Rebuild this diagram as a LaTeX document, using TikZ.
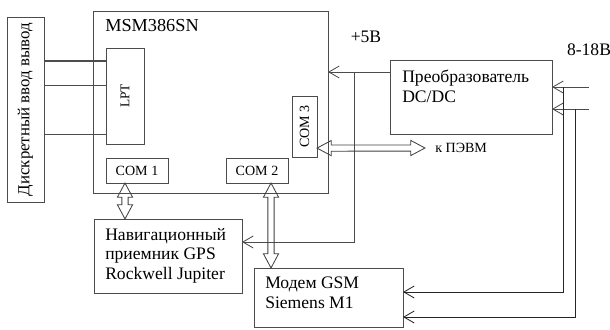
\documentclass[tikz,border=0pt]{standalone}
\usepackage{fontspec}
\setmainfont{Liberation Serif}
\usetikzlibrary{arrows.meta, calc, positioning, shapes.arrows}

\tikzset{
  box/.style={draw=black!70, line width=0.6pt, inner sep=0pt, outer sep=0pt},
  txt/.style={inner sep=0pt, text=black, font=\fontsize{12.5}{14}\selectfont, align=left},
  small/.style={text=black, font=\fontsize{10}{12}\selectfont},
  wire/.style={draw=black!70, line width=0.6pt},
  feed/.style={wire, -{Straight Barb[length=2.6mm,width=3mm]}},
  hollow/.style={double arrow, draw=black!75, line width=0.6pt, inner sep=1.9pt, outer sep=0pt,
    double arrow head extend=3.2pt, double arrow tip angle=56, double arrow head indent=0pt}
}

\newcommand{\hollowarrow}[2]{%
  \path let \p1=($(#2)-(#1)$), \n1={veclen(\x1,\y1)}, \n2={atan2(\y1,\x1)} in
    node[hollow, minimum height=\n1, rotate=\n2] at ($(#1)!0.5!(#2)$) {};}

\begin{document}
\begin{tikzpicture}[x=0.025cm, y=-0.025cm]
\useasboundingbox (0,0) rectangle (610,329);

% board and its ports
\node[box, minimum width=5.875cm, minimum height=4.55cm] (msm) at (210.5,102) {};
\node[txt, anchor=west, font=\fontsize{13}{15}\selectfont] (msmname) at (105,26) {MSM386SN};
\node[box, rotate=90, minimum width=2.4cm, minimum height=0.95cm,
  font=\fontsize{9.5}{11}\selectfont] (lpt) at (125,96) {LPT};
\node[box, small, minimum width=1.55cm, minimum height=0.625cm] (com1) at (137,170.5) {COM 1};
\node[box, small, minimum width=1.55cm, minimum height=0.625cm] (com2) at (257,170.5) {COM 2};
\node[box, small, rotate=90, minimum width=1.525cm, minimum height=0.625cm] (com3) at (304.5,126.5) {COM 3};

% discrete lines
\node[box, rotate=90, minimum width=4.625cm, minimum height=0.925cm,
  font=\fontsize{12}{14}\selectfont] (disc) at (25.5,109.5) {Дискретный ввод вывод};
\foreach \y/\w in {61/1.2pt, 85/0.6pt, 134/0.6pt}
  \draw[wire, line width=\w] (disc.south |- 0,\y) -- (lpt.north |- 0,\y);

% other units
\node[box, minimum width=4.05cm, minimum height=1.85cm] (conv) at (471,97) {};
\node[txt, below right=0.25cm and 0.3cm of conv.north west] (convtxt) {Преобразователь\\DC/DC};
\node[box, minimum width=3.7cm, minimum height=1.85cm] (gps) at (168,256) {};
\node[txt, below right=0.225cm and 0.275cm of gps.north west] (gpstxt) {Навигационный\\приемник GPS\\Rockwell Jupiter};
\node[box, minimum width=3.725cm, minimum height=1.475cm] (modem) at (328.5,297.5) {};
\node[txt, below right=0.225cm and 0.275cm of modem.north west] (modemtxt) {Модем GSM\\Siemens M1};

\node[txt] (v5) at (366,37) {+5В};
\node[txt] (v818) at (589,50) {8-18В};
\node[small, inner sep=0pt, anchor=west] (pevm) at (435,148) {к ПЭВМ};

% power
\coordinate (p5) at (354,72);
\coordinate (pg) at (354,242);
\draw[feed] (conv.west |- p5) -- (msm.east |- p5);
\draw[feed] (p5) -- (pg) -- (gps.east |- pg);
\coordinate (in1) at (589,87);
\coordinate (in2) at (589,109);
\coordinate (v1) at (563,87);
\coordinate (v2) at (575,109);
\draw[feed] (in1) -- (conv.east |- in1);
\draw[feed] (in2) -- (conv.east |- in2);
\draw[feed, draw=black!85] (v1) |- (modem.east |- 0,292);
\draw[feed, draw=black!85] (v2) |- (modem.east |- 0,317);

% data links
\coordinate (c1a) at ([xshift=-0.3cm]com1.south);
\coordinate (c1b) at (c1a |- gps.north);
\coordinate (c2a) at ([xshift=0.35cm]com2.south);
\coordinate (c2b) at (c2a |- modem.north);
\coordinate (c3a) at ([yshift=-0.54cm]com3.south);
\coordinate (c3b) at ([xshift=-0.25cm]pevm.west);
\hollowarrow{c1a}{c1b}
\hollowarrow{c2a}{c2b}
\hollowarrow{c3a}{c3b}
\end{tikzpicture}
\end{document}
